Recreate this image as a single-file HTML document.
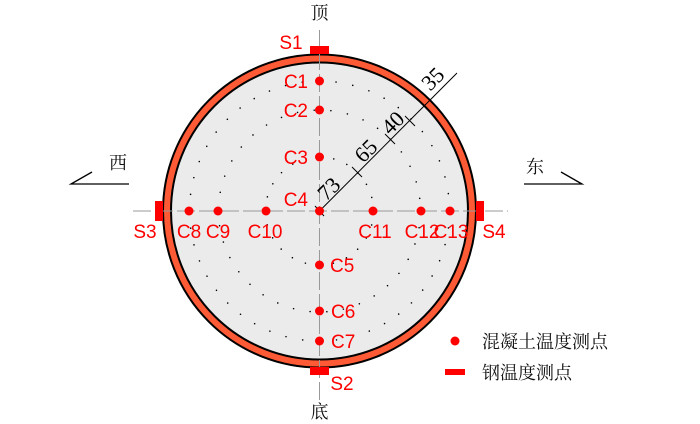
<!DOCTYPE html>
<html><head><meta charset="utf-8"><style>
html,body{margin:0;padding:0;background:#fff;}
svg{display:block;}
.r{font-family:"Liberation Sans",sans-serif;font-size:19px;fill:#f00;}
.c{font-family:"Liberation Serif","Noto Serif CJK SC",serif;font-size:18px;fill:#111;}
.d{font-family:"Liberation Serif",serif;font-size:22px;fill:#000;}
</style></head><body>
<svg width="700" height="424" viewBox="0 0 700 424" xmlns="http://www.w3.org/2000/svg">
<circle cx="319.5" cy="211" r="156.5" fill="#ff5a36" stroke="#000" stroke-width="2"/>
<circle cx="319.5" cy="211" r="148.5" fill="#ebebeb" stroke="#000" stroke-width="2"/>
<g fill="none" stroke="#000" stroke-width="1.6" stroke-linecap="round">
<circle cx="319.5" cy="211" r="54" stroke-dasharray="0 14.14"/>
<circle cx="319.5" cy="211" r="101" stroke-dasharray="0 16.8"/>
<circle cx="319.5" cy="211" r="130" stroke-dasharray="0 17"/>
</g>
<line x1="133" y1="211" x2="508" y2="211" stroke="#999" stroke-width="1" stroke-dasharray="18 4"/>
<line x1="319.5" y1="30" x2="319.5" y2="400" stroke="#999" stroke-width="1" stroke-dasharray="18 4"/>
<g stroke="#000" stroke-width="1">
<line x1="319.5" y1="211" x2="457" y2="73"/>
<line x1="352" y1="167" x2="362" y2="177"/>
<line x1="385" y1="134" x2="395" y2="144"/>
<line x1="405" y1="116" x2="415" y2="126"/>
<line x1="315" y1="206" x2="324" y2="216"/>
</g>
<text class="d" transform="translate(334,194) rotate(-45)" text-anchor="middle">73</text>
<text class="d" transform="translate(371,156) rotate(-45)" text-anchor="middle">65</text>
<text class="d" transform="translate(398,128) rotate(-45)" text-anchor="middle">40</text>
<text class="d" transform="translate(438,84) rotate(-45)" text-anchor="middle">35</text>
<g fill="#f00">
<rect x="310" y="46" width="19" height="8"/>
<rect x="310" y="367" width="19" height="8"/>
<rect x="155" y="201" width="8" height="20"/>
<rect x="476" y="201" width="8" height="20"/>
</g>
<g fill="#f00">
<circle cx="319.5" cy="81" r="4.5"/><circle cx="319.5" cy="110" r="4.5"/>
<circle cx="319.5" cy="157" r="4.5"/><circle cx="319.5" cy="211" r="4.5"/>
<circle cx="319.5" cy="265" r="4.5"/><circle cx="319.5" cy="311" r="4.5"/>
<circle cx="319.5" cy="341" r="4.5"/>
<circle cx="189" cy="211" r="4.5"/><circle cx="218" cy="211" r="4.5"/>
<circle cx="266" cy="211" r="4.5"/><circle cx="373" cy="211" r="4.5"/>
<circle cx="421" cy="211" r="4.5"/><circle cx="450" cy="211" r="4.5"/>
</g>
<g class="r">
<text x="308" y="88" text-anchor="end" textLength="24">C1</text>
<text x="308" y="117" text-anchor="end">C2</text>
<text x="308" y="164" text-anchor="end">C3</text>
<text x="308" y="206" text-anchor="end">C4</text>
<text x="330" y="272">C5</text>
<text x="331" y="318">C6</text>
<text x="331" y="348">C7</text>
<text x="189" y="238" text-anchor="middle">C8</text>
<text x="218" y="238" text-anchor="middle">C9</text>
<text x="265" y="238" text-anchor="middle">C10</text>
<text x="375" y="238" text-anchor="middle">C11</text>
<text x="422" y="238" text-anchor="middle">C12</text>
<text x="451" y="238" text-anchor="middle">C13</text>
<text x="291" y="49" text-anchor="middle">S1</text>
<text x="342" y="390" text-anchor="middle">S2</text>
<text x="145" y="238" text-anchor="middle">S3</text>
<text x="494" y="238" text-anchor="middle">S4</text>
</g>
<g class="c" text-anchor="middle">
<text x="319.5" y="19">顶</text>
<text x="319.5" y="418">底</text>
<text x="118" y="169">西</text>
<text x="535" y="173">东</text>
</g>
<g stroke="#000" stroke-width="1.3" fill="none">
<polyline points="92,172 71,184 129,184"/>
<polyline points="524,184 582,184 561,172"/>
</g>
<circle cx="455" cy="341" r="4.5" fill="#f00"/>
<rect x="445" y="369" width="20" height="6" fill="#f00"/>
<text class="c" x="482" y="348" style="font-size:18px">混凝土温度测点</text>
<text class="c" x="482" y="379" style="font-size:18px">钢温度测点</text>
</svg>
</body></html>
